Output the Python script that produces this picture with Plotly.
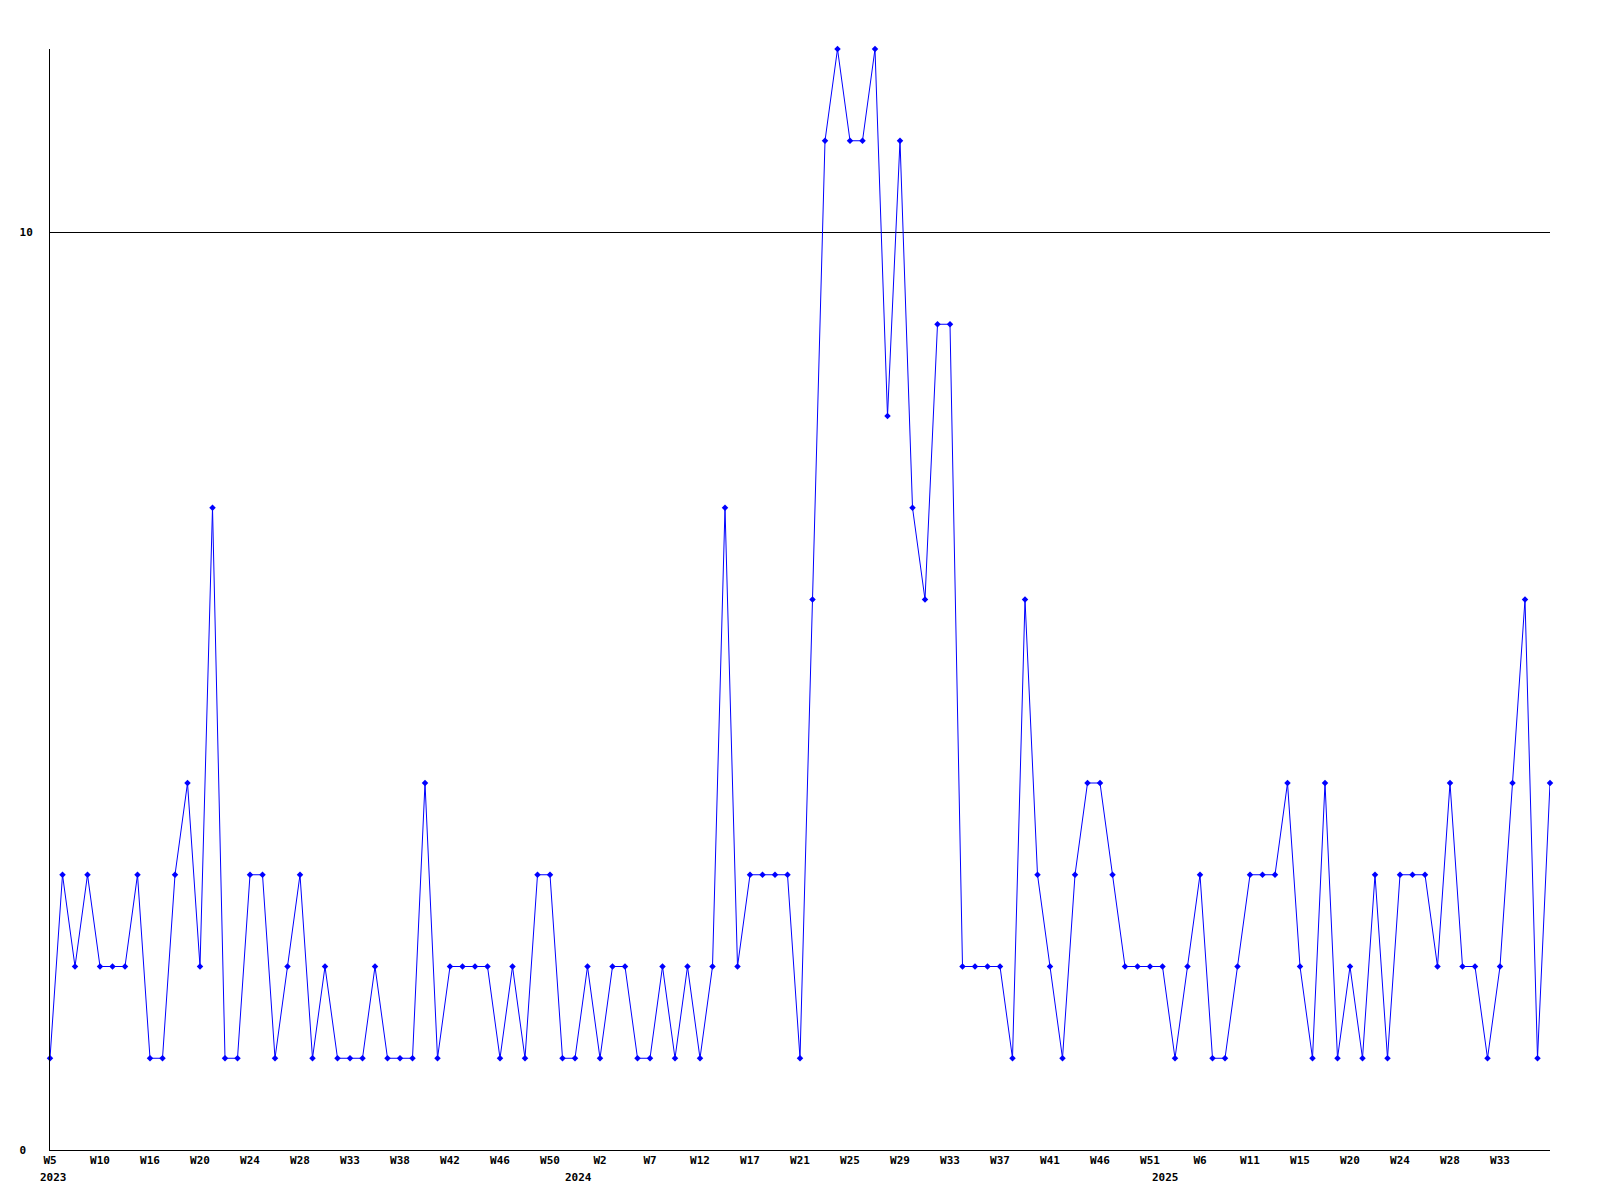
import plotly.graph_objects as go

# Weekly counts (weeks without data are not shown), 2023 W5 .. 2025 ~W36
values = [1, 3, 2, 3, 2, 2, 2, 3, 1, 1,
          3, 4, 2, 7, 1, 1, 3, 3, 1, 2,
          3, 1, 2, 1, 1, 1, 2, 1, 1, 1,
          4, 1, 2, 2, 2, 2, 1, 2, 1, 3,
          3, 1, 1, 2, 1, 2, 2, 1, 1, 2,
          1, 2, 1, 2, 7, 2, 3, 3, 3, 3,
          1, 6, 11, 12, 11, 11, 12, 8, 11, 7,
          6, 9, 9, 2, 2, 2, 2, 1, 6, 3,
          2, 1, 3, 4, 4, 3, 2, 2, 2, 2,
          1, 2, 3, 1, 1, 2, 3, 3, 3, 4,
          2, 1, 4, 1, 2, 1, 3, 1, 3, 3,
          3, 2, 4, 2, 2, 1, 2, 4, 6, 1,
          4]

week_ticks = ["W5", "W10", "W16", "W20", "W24", "W28", "W33", "W38", "W42", "W46",
              "W50", "W2", "W7", "W12", "W17", "W21", "W25", "W29", "W33", "W37",
              "W41", "W46", "W51", "W6", "W11", "W15", "W20", "W24", "W28", "W33"]
years = ["2023", "2024", "2025"]
year_pos = [0.25, 42.3, 89.2]

y_ticks = [0, 10]
y_tick_text = ["0\u00a0", "10"]

x = list(range(len(values)))
tick_step = 4
tickvals = [i * tick_step for i in range(len(week_ticks))]

font_mono = dict(family="DejaVu Sans Mono", size=11, color="black", weight="bold")

fig = go.Figure()
fig.add_trace(go.Scatter(
    x=x, y=values, mode="lines+markers",
    line=dict(color="#0000FF", width=1),
    marker=dict(symbol="diamond", size=5, color="#0000FF"),
    cliponaxis=False,
))

fig.update_layout(
    width=1600, height=1200,
    margin=dict(l=42, r=58, t=41, b=58),
    paper_bgcolor="white", plot_bgcolor="white",
    showlegend=False,
    font=font_mono,
)
fig.update_xaxes(
    range=[0, len(values) - 1],
    tickmode="array", tickvals=tickvals, ticktext=week_ticks,
    showgrid=False, zeroline=False,
    showline=True, linecolor="black", linewidth=1,
    ticks="", ticklen=0, tickfont=font_mono,
)
fig.update_yaxes(
    range=[0, 12],
    tickmode="array", tickvals=y_ticks, ticktext=y_tick_text,
    showgrid=True, gridcolor="black", gridwidth=1,
    zeroline=False,
    showline=True, linecolor="black", linewidth=1,
    ticks="", tickfont=font_mono, ticklabelstandoff=14,
)
for yr, pos in zip(years, year_pos):
    fig.add_annotation(x=pos, y=0, xref="x", yref="y", text=yr,
                       showarrow=False, yshift=-27, font=font_mono,
                       xanchor="center", yanchor="middle")

fig.write_html("out.html")
